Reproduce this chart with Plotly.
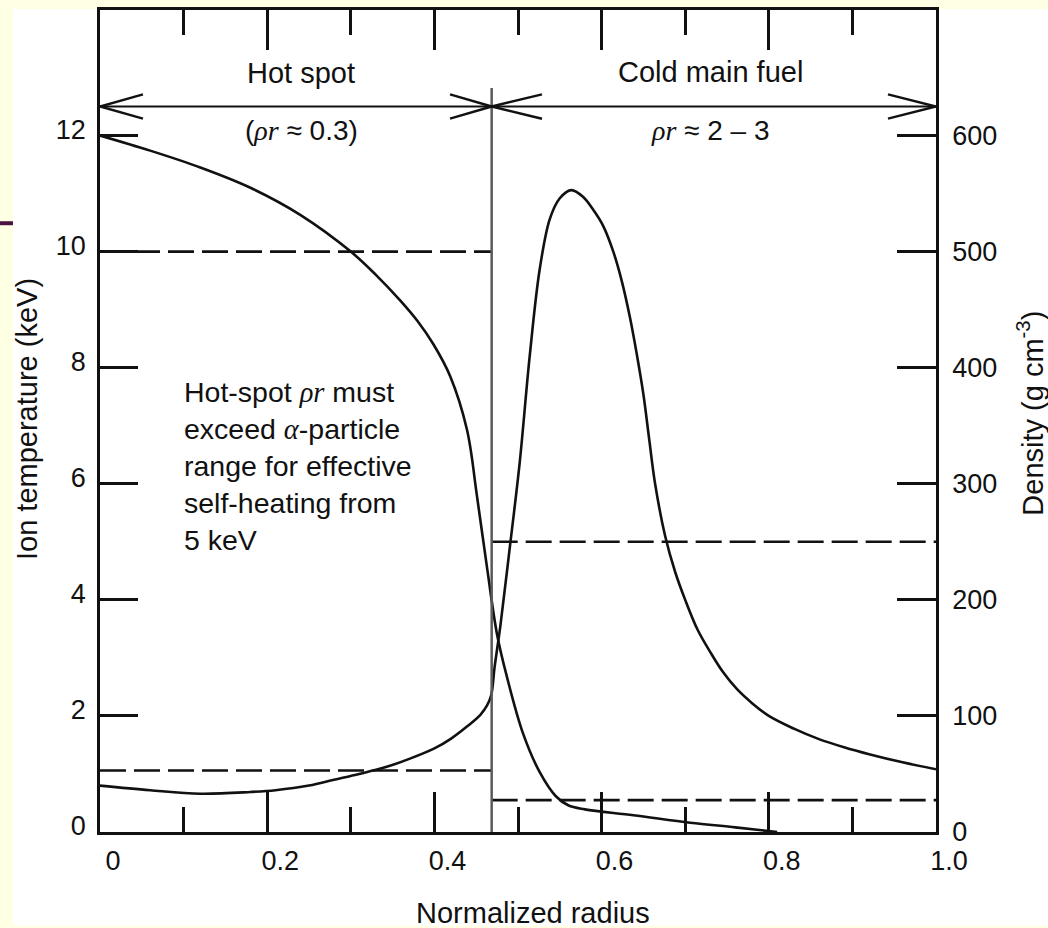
import plotly.graph_objects as go

# ---------------- data ----------------
# Ion temperature (keV) vs normalized radius
radius_T = [0.000, 0.060, 0.120, 0.180, 0.240, 0.300, 0.330, 0.359, 0.380, 0.399,
            0.419, 0.439, 0.451, 0.463, 0.475, 0.487, 0.506, 0.526, 0.545, 0.560,
            0.580, 0.638, 0.706, 0.760, 0.810]
temperature = [12.00, 11.74, 11.45, 11.10, 10.63, 10.00, 9.60, 9.16, 8.80, 8.40,
               7.85, 6.93, 5.78, 4.55, 3.40, 2.66, 1.70, 1.03, 0.62, 0.46,
               0.39, 0.29, 0.16, 0.08, 0.00]

# Density (g cm^-3) vs normalized radius
radius_rho = [0.000, 0.060, 0.120, 0.180, 0.210, 0.250, 0.280, 0.310, 0.340, 0.370,
              0.400, 0.420, 0.440, 0.455, 0.463, 0.468, 0.472, 0.479, 0.490, 0.502,
              0.514, 0.526, 0.538, 0.550, 0.564, 0.578, 0.590, 0.602, 0.614, 0.624,
              0.634, 0.642, 0.650, 0.657, 0.664, 0.676, 0.688, 0.700, 0.715, 0.730,
              0.745, 0.762, 0.780, 0.800, 0.830, 0.860, 0.890, 0.920, 0.960, 1.000]
density = [40, 36, 33, 34.5, 36, 40, 45, 50, 55.5, 63,
           72, 80.5, 91.5, 101, 109, 118, 142, 178, 244, 318,
           410, 485, 528, 546, 553, 547, 536, 522, 500, 475,
           443, 412, 377, 338, 300, 255, 224, 200, 174, 155,
           138, 123, 111, 100, 89, 80, 73, 67, 60, 54]

# boundary between hot spot and cold main fuel
boundary = 0.4685
# dashed reference levels
hot_T_level = 10.0      # keV (hot spot)
hot_rho_level = 53.0    # g/cc (hot spot)
cold_rho_level = 250.0  # g/cc (cold fuel)
cold_T_level = 0.55     # keV (cold fuel)

x_ticks = [0, 0.2, 0.4, 0.6, 0.8, 1.0]
x_ticktext = ["0", "0.2", "0.4", "0.6", "0.8", "1.0"]
T_ticks = [0, 2, 4, 6, 8, 10, 12]
rho_ticks = [0, 100, 200, 300, 400, 500, 600]

arrow_level = 12.5      # keV position of the region arrow
T_max = 14.163
rho_scale = 50.0

FONT = "Liberation Sans, Arial, Helvetica, sans-serif"
SERIF = "Liberation Serif, Times New Roman, serif"
INK = "#111111"

fig = go.Figure()

# dashed lines
dash = "26px,8px"
fig.add_trace(go.Scatter(x=[0, boundary], y=[hot_T_level, hot_T_level], mode="lines",
                         line=dict(color=INK, width=2.6, dash=dash), yaxis="y"))
fig.add_trace(go.Scatter(x=[0, boundary], y=[hot_rho_level, hot_rho_level], mode="lines",
                         line=dict(color=INK, width=2.6, dash=dash), yaxis="y2"))
fig.add_trace(go.Scatter(x=[boundary, 1.0], y=[cold_rho_level, cold_rho_level], mode="lines",
                         line=dict(color=INK, width=2.6, dash=dash), yaxis="y2"))
fig.add_trace(go.Scatter(x=[boundary, 1.0], y=[cold_T_level, cold_T_level], mode="lines",
                         line=dict(color=INK, width=2.6, dash=dash), yaxis="y"))

# curves
fig.add_trace(go.Scatter(x=radius_T, y=temperature, mode="lines",
                         line=dict(color=INK, width=2.6, shape="spline", smoothing=1.0),
                         yaxis="y"))
fig.add_trace(go.Scatter(x=radius_rho, y=density, mode="lines",
                         line=dict(color=INK, width=2.6, shape="spline", smoothing=1.0),
                         yaxis="y2"))

shapes = []
# white picture panel on a pale-yellow slide
shapes.append(dict(type="rect", xref="paper", yref="paper", x0=-0.1041, x1=1.134,
                   y0=-0.1139, y1=1.0012, fillcolor="white", line=dict(width=0),
                   layer="below"))
# slide decoration line at the left edge
shapes.append(dict(type="line", xref="paper", yref="paper", x0=-0.1196, x1=-0.1041,
                   y0=0.7406, y1=0.7406, line=dict(color="#4B1241", width=4)))
# boundary vertical line
shapes.append(dict(type="line", xref="x", yref="y", x0=boundary, x1=boundary,
                   y0=0, y1=12.82, line=dict(color="#5a5a5a", width=2.5)))
# region arrow
shapes.append(dict(type="line", xref="x", yref="y", x0=0, x1=1.0,
                   y0=arrow_level, y1=arrow_level, line=dict(color=INK, width=2)))
chevrons = [(0.0, 0.0514), (boundary, 0.4187), (boundary, 0.5287), (1.0, 0.9426)]
for tip, tail in chevrons:
    for dy in (0.21, -0.21):
        shapes.append(dict(type="line", xref="x", yref="y", x0=tip, x1=tail,
                           y0=arrow_level, y1=arrow_level + dy,
                           line=dict(color=INK, width=2.4)))

rho_i = f"<span style=\"font-family:{SERIF}\"><i>ρr</i></span>"
alpha_i = f"<span style=\"font-family:{SERIF}\"><i>α</i></span>"


def note(text, x, y, size, **kw):
    d = dict(text=text, x=x, y=y, xref="paper", yref="paper", showarrow=False,
             xanchor="center", yanchor="middle",
             font=dict(size=size, family=FONT, color=INK))
    d.update(kw)
    return d


annotations = [
    note("Hot spot", 0.241, 0.9236, 29),
    note("Cold main fuel", 0.7297, 0.9248, 29),
    note(f"({rho_i} ≈ 0.3)", 0.2416, 0.8530, 28),
    note(f"{rho_i} ≈ 2 – 3", 0.7297, 0.8530, 28),
    note((f"Hot-spot {rho_i} must<br>exceed {alpha_i}-particle<br>"
          "range for effective<br>self-heating from<br>5 keV"),
         0.0975, 0.4450, 28.5, xanchor="left", align="left"),
    # axis titles
    note("Ion temperature (keV)", -0.0879, 0.5018, 29, textangle=-90),
    note("Density (g cm<sup>-3</sup>)", 1.1125, 0.509, 29, textangle=-90),
    note("Normalized radius", 0.518, -0.0982, 29),
]

axis_common = dict(showgrid=False, zeroline=False, showline=True, linecolor=INK,
                   linewidth=2.6, ticks="inside", tickcolor=INK, tickwidth=2.5,
                   tickfont=dict(size=27, family=FONT, color=INK))

fig.update_layout(
    width=1048, height=928,
    margin=dict(l=100, r=112, t=7, b=96),
    paper_bgcolor="#FFFFE3", plot_bgcolor="white",
    showlegend=False,
    shapes=shapes, annotations=annotations,
    xaxis=dict(range=[0, 1.0], tickvals=x_ticks, ticktext=x_ticktext, ticklen=40,
               mirror="ticks", ticklabelshift=13, ticklabelstandoff=3,
               minor=dict(ticks="inside", dtick=0.1, ticklen=25, tickwidth=2.5,
                          tickcolor=INK),
               **axis_common),
    yaxis=dict(range=[0, T_max], tickvals=T_ticks, ticklen=38,
               ticklabelshift=-6, ticklabelstandoff=6, **axis_common),
    yaxis2=dict(range=[0, T_max * rho_scale], tickvals=rho_ticks, ticklen=39,
                overlaying="y", side="right", ticklabelstandoff=8,
                **axis_common),
)

fig.write_html("out.html")
